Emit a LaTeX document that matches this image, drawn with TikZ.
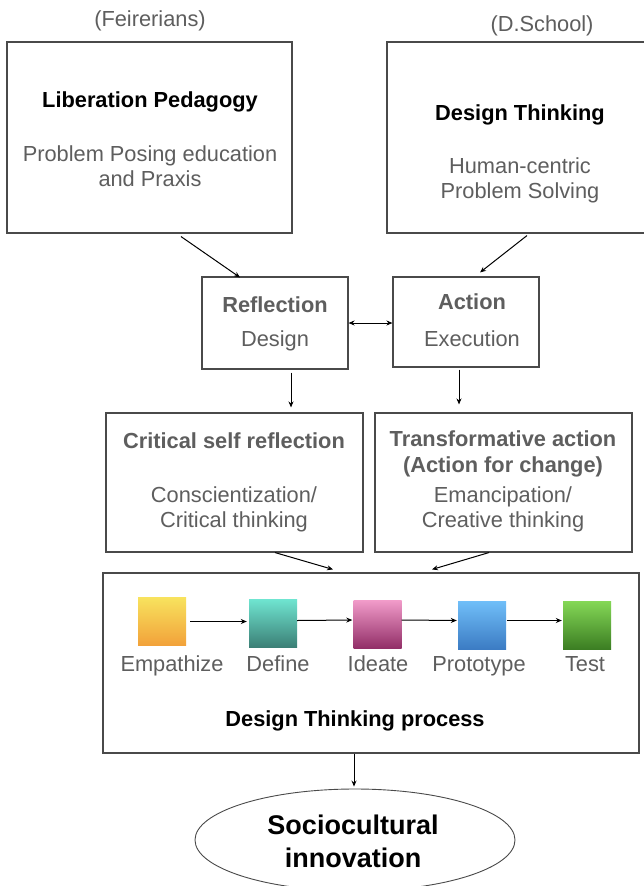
\documentclass[tikz,border=0pt]{standalone}
\usepackage{fontspec}
\setmainfont{Liberation Sans}
\usetikzlibrary{calc,arrows.meta,shapes.geometric}
\definecolor{txtgray}{HTML}{5E5E5E}
\definecolor{boxgray}{HTML}{4A4A4A}
\definecolor{emT}{HTML}{F8E35E}\definecolor{emB}{HTML}{F2A23A}
\definecolor{deT}{HTML}{6FE4D0}\definecolor{deB}{HTML}{3B7F75}
\definecolor{idT}{HTML}{F29CCA}\definecolor{idB}{HTML}{922F68}
\definecolor{prT}{HTML}{70BEF8}\definecolor{prB}{HTML}{3B7BC3}
\definecolor{teT}{HTML}{84D756}\definecolor{teB}{HTML}{3B7D22}
\tikzset{
  box/.style={draw=boxgray, line width=1.1pt, inner sep=0pt, fill=white},
  sq/.style={minimum width=48pt, minimum height=48pt, inner sep=0pt},
  arr/.style={line width=1pt, -{Stealth[length=6pt,width=5pt]}},
  darr/.style={line width=1pt, {Stealth[length=6pt,width=5pt]}-{Stealth[length=6pt,width=5pt]}},
  tg/.style={anchor=base, text=txtgray, font=\fontsize{21.8}{25}\selectfont, inner sep=0pt},
  tgb/.style={anchor=base, text=txtgray, font=\fontsize{21.8}{25}\selectfont\bfseries, inner sep=0pt},
  tk/.style={anchor=base, text=black, font=\fontsize{21.8}{25}\selectfont\bfseries, inner sep=0pt},
}
\begin{document}
\begin{tikzpicture}[x=1pt,y=-1pt]
\useasboundingbox (0,0) rectangle (644,886);
\clip (0,0) rectangle (644,886);
\fill[white] (0,0) rectangle (644,886);

% top boxes
\node[box, minimum width=285pt, minimum height=191pt] (lib) at (149.5,137.5) {};
\node[box, minimum width=273pt, minimum height=191pt] (dt) at (523.5,137.5) {};
\node[tg] (feir) at (150,27) {(Feirerians)};
\node[tg] (dsch) at (542,31) {(D.School)};
\node[tk] (libt) at (150,107) {Liberation Pedagogy};
\node[tg] (lib1) at (150,161) {Problem Posing education};
\node[tg] (lib2) at (150,186) {and Praxis};
\node[tk] (dtt) at (520,120) {Design Thinking};
\node[tg] (dt1) at (520,173) {Human-centric};
\node[tg] (dt2) at (520,198) {Problem Solving};

% reflection / action
\node[box, minimum width=146pt, minimum height=92pt] (refl) at (275,323) {};
\node[box, minimum width=146pt, minimum height=90pt] (act) at (466,322) {};
\node[tgb] (reflt) at (275,312) {Reflection};
\node[tg] (refl1) at (275,346) {Design};
\node[tgb] (actt) at (472,309) {Action};
\node[tg] (act1) at (472,346) {Execution};

% critical / transformative
\node[box, minimum width=257pt, minimum height=139pt] (crit) at (234.5,482.5) {};
\node[box, minimum width=257pt, minimum height=139pt] (trans) at (503.5,482.5) {};
\node[tgb] (critt) at (234,448) {Critical self reflection};
\node[tg] (crit1) at (234,502) {Conscientization/};
\node[tg] (crit2) at (234,527) {Critical thinking};
\node[tgb] (transt) at (503,446) {Transformative action};
\node[tgb] (transt2) at (503,472) {(Action for change)};
\node[tg] (trans1) at (503,502) {Emancipation/};
\node[tg] (trans2) at (503,527) {Creative thinking};

% process box
\node[box, minimum width=536pt, minimum height=180pt] (proc) at (371,663) {};
\node[sq, top color=emT, bottom color=emB] (em) at (162,621) {};
\node[sq, top color=deT, bottom color=deB] (def) at (273,623.5) {};
\node[sq, top color=idT, bottom color=idB] (ide) at (377.5,624) {};
\node[sq, top color=prT, bottom color=prB] (pro) at (482,625.5) {};
\node[sq, top color=teT, bottom color=teB] (tst) at (587,625.5) {};
\node[tg] (eml) at (172,671) {Empathize};
\node[tg] (defl) at (278,671) {Define};
\node[tg] (idel) at (378,671) {Ideate};
\node[tg] (prol) at (479,671) {Prototype};
\node[tg] (tstl) at (585,671) {Test};
\node[tk] (proct) at (355,726) {Design Thinking process};

% ellipse
\node[draw=boxgray, line width=0.9pt, ellipse, minimum width=320pt, minimum height=102pt, inner sep=0pt] (ell) at (355,840) {};
\node[anchor=base, font=\fontsize{27}{32}\selectfont\bfseries, inner sep=0pt] (ell1) at (353,834) {Sociocultural};
\node[anchor=base, font=\fontsize{27}{32}\selectfont\bfseries, inner sep=0pt] (ell2) at (353,867) {innovation};

% connectors
\draw[arr] ($(lib.south)+(31.5,3)$) -- ($(refl.north)+(-35,1)$);
\draw[arr] ($(dt.south)+(3.5,2)$) -- ($(act.north)+(14,-4)$);
\draw[darr] (refl.east) -- (refl.east -| act.west);
\coordinate (rs) at ($(refl.south)+(16,3)$);
\draw[arr] (rs) -- (rs |- {$(crit.north)+(0,-5)$});
\coordinate (as) at ($(act.south)+(-7,2)$);
\draw[arr] (as) -- (as |- {$(trans.north)+(0,-8)$});
\draw[arr] ($(crit.south)+(40.5,0)$) -- ($(proc.north)+(-38,-3)$);
\draw[arr] ($(trans.south)+(-14.5,0)$) -- ($(proc.north)+(61,-3)$);
\draw[arr, shorten <=4pt, shorten >=2pt] ($(em.east)+(0,0.5)$) -- ($(def.west)+(0,-2)$);
\draw[arr, shorten >=1pt] ($(def.east)+(0,-3)$) -- ($(ide.west)+(0,-4)$);
\draw[arr, shorten >=1pt] ($(ide.east)+(0,-4)$) -- ($(pro.west)+(0,-5)$);
\draw[arr, shorten <=1pt, shorten >=1pt] ($(pro.east)+(0,-5)$) -- ($(tst.west)+(0,-5)$);
\draw[arr] ($(proc.south)+(-17,0)$) -- ($(ell.north)+(-1,-2)$);
\end{tikzpicture}
\end{document}
